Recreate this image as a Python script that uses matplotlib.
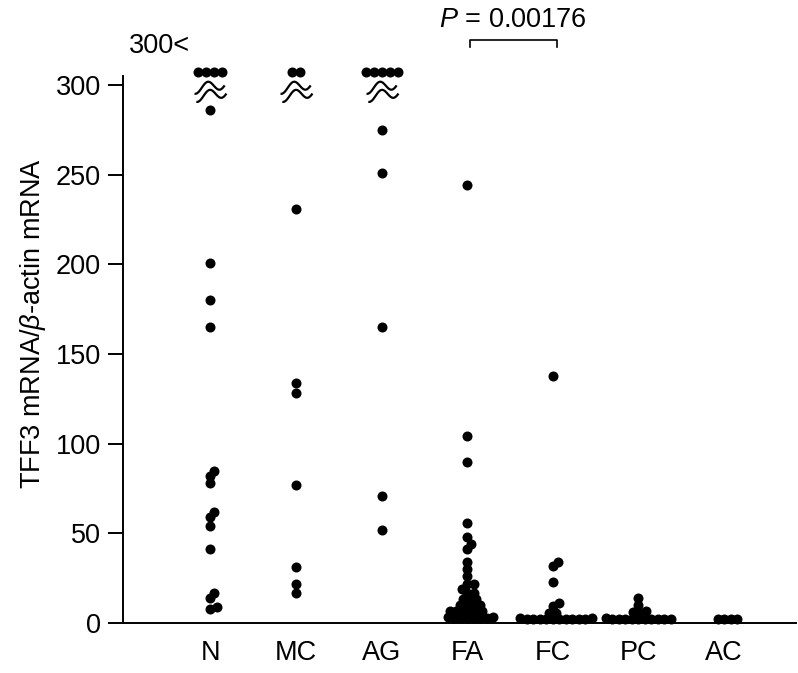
import numpy as np
import matplotlib
matplotlib.use("Agg")
import matplotlib.pyplot as plt
from matplotlib.path import Path

plt.rcParams['font.family'] = 'Liberation Sans'
plt.rcParams['mathtext.fontset'] = 'custom'
plt.rcParams['mathtext.rm'] = 'Liberation Sans'
plt.rcParams['mathtext.it'] = 'Liberation Sans:italic'

# groups and values
groups = ['N', 'MC', 'AG', 'FA', 'FC', 'PC', 'AC']
n_over300 = [4, 2, 5, 0, 0, 0, 0]   # samples above 300 (drawn in a row on top)

N_vals = [286, 201, 180, 165, 85, 82, 78, 62, 59, 54, 41, 17, 14, 9, 8]
MC_vals = [231, 134, 128, 77, 31, 22, 17]
AG_vals = [275, 251, 165, 71, 52]
FA_vals = [244, 104, 90, 56, 48, 44, 41, 34, 30, 26, 22, 21.5, 19, 17, 16.6,
           13.5, 13.2, 12.8, 10, 9.8, 9.5, 9.8, 6.8, 6.5, 6.5, 6.3, 6.5, 6.2,
           3.2, 3, 3, 2.8, 3, 3.2, 2.8, 3]
FC_vals = [138, 34, 32, 23, 11, 9.5, 5.6, 5.6, 3, 2.8, 2.5, 2.5, 2.5, 2.5,
           2.5, 2.5, 2.5, 2.5, 2.5, 2.5]
PC_vals = [14, 10, 6.5, 6.2, 6, 3, 2.5, 2.5, 2.5, 2.5, 2.5, 2.5, 2.5, 2.5,
           2.5, 2.5]
AC_vals = [2.5, 2.5, 2.5, 2.5]
all_vals = [N_vals, MC_vals, AG_vals, FA_vals, FC_vals, PC_vals, AC_vals]

over_level = 307     # where the ">300" dots sit
break_level = 297    # where the axis-break waves sit
yticks = [0, 50, 100, 150, 200, 250, 300]
fs = 19.5


def swarm(values, ppx, ppy, d=6.3):
    # simple beeswarm in pixel units, returns x offsets in data units
    values = np.asarray(values, dtype=float)
    offs = np.zeros(len(values))
    placed = []
    cand = [0.0]
    for s in np.arange(0.5, 80, 0.5):
        cand += [s, -s]
    for i in np.argsort(values, kind='stable'):
        y = values[i] * ppy
        for c in cand:
            ok = True
            for px, py in placed:
                if (c - px)**2 + (y - py)**2 < d*d:
                    ok = False
                    break
            if ok:
                break
        placed.append((c, y))
        offs[i] = c / ppx
    return offs


fig = plt.figure(figsize=(7.98, 6.73), dpi=100)
ax = fig.add_axes([123/798, 1 - 623/673, 673/798, 547/673])
ax.set_xlim(-1.02, 6.84)
ax.set_ylim(0, 305)

ppx = ax.bbox.width / (6.84 + 1.02)
ppy = ax.bbox.height / 305.

for i, v in enumerate(all_vals):
    x = i + swarm(v, ppx, ppy)
    ax.scatter(x, v, s=52, c='k', linewidths=0, clip_on=False, zorder=3)

# dots above 300 and the wave break mark
t = np.linspace(-0.6*np.pi, 1.9*np.pi, 50)
xw = np.linspace(-1, 1, 50)
yw = 0.33*np.sin(t) + 0.17*xw
verts = np.concatenate([np.column_stack([xw - 0.06, yw + 0.27]),
                        np.column_stack([xw + 0.06, yw - 0.27])])
codes = [Path.MOVETO] + [Path.LINETO]*49 + [Path.MOVETO] + [Path.LINETO]*49
wave = Path(verts, codes)

for i, n in enumerate(n_over300):
    if n == 0:
        continue
    xo = i + (np.arange(n) - (n - 1)/2.) * 8.0 / ppx
    ax.scatter(xo, [over_level]*n, s=52, c='k', linewidths=0, clip_on=False, zorder=3)
    ax.plot([i], [break_level], marker=wave, ms=23, mfc='none', mec='k',
            mew=1.6, ls='none', clip_on=False)

ax.text(-0.955, 318, '300<', fontsize=fs, ha='left', va='baseline')

# significance bracket
ax.plot([3.03, 3.03, 4.05, 4.05], [321.3, 325.2, 325.2, 321.3], color='k',
        lw=1.2, clip_on=False)
ax.text(3.53, 332.6, r'$P$ = 0.00176', fontsize=fs, ha='center', va='baseline')

ax.set_xticks(range(len(groups)))
ax.set_xticklabels(groups)
ax.set_yticks(yticks)
ax.tick_params(axis='y', direction='out', length=11, width=1.4, labelsize=fs, pad=5)
ax.tick_params(axis='x', length=0, labelsize=fs, pad=12)

ax.spines['top'].set_visible(False)
ax.spines['right'].set_visible(False)
ax.spines['left'].set_linewidth(1.4)
ax.spines['bottom'].set_linewidth(1.4)

ax.set_ylabel(r'TFF3 mRNA/$\beta$-actin mRNA', fontsize=fs)
ax.yaxis.set_label_coords(-0.112, 0.548)

plt.savefig('out.png', dpi=100)
